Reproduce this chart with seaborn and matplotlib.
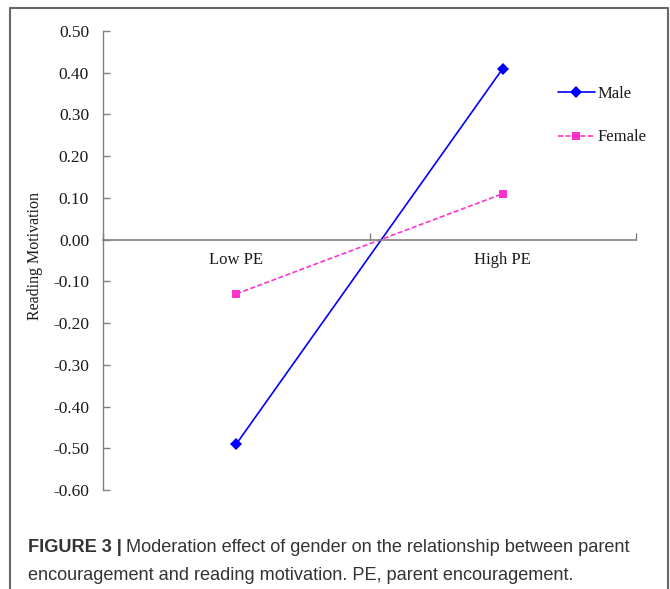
import matplotlib
matplotlib.use('Agg')
import matplotlib.pyplot as plt
import matplotlib.lines as mlines
import pandas as pd
import seaborn as sns

# values
levels = ['Low PE', 'High PE']
male = [-0.49, 0.41]
female = [-0.13, 0.11]
y_ticks = [0.50, 0.40, 0.30, 0.20, 0.10, 0.00, -0.10, -0.20, -0.30, -0.40, -0.50, -0.60]

df = pd.DataFrame({
    'PE': levels * 2,
    'value': male + female,
    'Gender': ['Male'] * 2 + ['Female'] * 2,
})

sns.set_style('white')
plt.rcParams['font.family'] = ['Liberation Serif', 'DejaVu Serif']

fig = plt.figure(figsize=(6.7, 5.89), dpi=100)
ax = fig.add_axes([103 / 670, 1 - 490 / 589, 533 / 670, 459 / 589])

blue, pink = '#0000FF', '#FF33CC'
sns.lineplot(data=df, x='PE', y='value', hue='Gender', style='Gender',
             palette={'Male': blue, 'Female': pink},
             markers={'Male': 'D', 'Female': 's'},
             dashes={'Male': '', 'Female': (3, 1.5)},
             markersize=6, linewidth=1.2, markeredgewidth=0, ax=ax, legend=False)

ax.set_xlim(-0.5, 1.5)
ax.set_ylim(-0.60, 0.50)
ax.set_yticks(y_ticks)
ax.set_yticklabels([f'{t:.2f}' for t in y_ticks])

gray = '#808080'
txt = '#1a1a1a'
for s in ['top', 'right']:
    ax.spines[s].set_visible(False)
ax.spines['left'].set_color(gray)
ax.spines['left'].set_linewidth(1.0)
ax.spines['bottom'].set_position(('data', 0))
ax.spines['bottom'].set_color(gray)
ax.spines['bottom'].set_linewidth(1.2)

ax.tick_params(axis='y', direction='in', length=5, width=1, color=gray,
               labelsize=12.5, labelcolor=txt, pad=10, left=True)
ax.set_xticks([-0.5, 0.5, 1.5])
ax.set_xticklabels([])
ax.set_xticks([0, 1], minor=True)
ax.set_xticklabels(levels, minor=True)
ax.tick_params(axis='x', which='major', direction='in', length=5, width=1,
               color=gray, bottom=True)
ax.tick_params(axis='x', which='minor', length=0, labelsize=12,
               labelcolor=txt, pad=9, bottom=True)

ax.set_xlabel('')
ax.set_ylabel('Reading Motivation', fontsize=11.5, color=txt)
ax.yaxis.set_label_coords(-0.112, 0.51)
ax.grid(False)

handles = [
    mlines.Line2D([], [], color=blue, marker='D', markersize=6,
                  markeredgewidth=0, linewidth=1.2),
    mlines.Line2D([], [], color=pink, marker='s', markersize=6,
                  markeredgewidth=0, linewidth=1.2, dashes=(3, 1.5)),
]
fig.legend(handles, ['Male', 'Female'], loc='upper left',
           bbox_to_anchor=(543 / 670, 1 - 71 / 589), frameon=False,
           fontsize=12, handlelength=2.2, handletextpad=0.15,
           labelspacing=1.65, labelcolor=txt)

# frame around the figure panel (open at the bottom)
fx0, fx1, fy1 = 10 / 670, 668 / 670, 1 - 8 / 589
fig.add_artist(mlines.Line2D([fx0, fx0, fx1, fx1], [0, fy1, fy1, 0],
                             transform=fig.transFigure, color='#666666',
                             linewidth=1.5))

# caption
cap_font = ['Liberation Sans', 'DejaVu Sans']
cap_size = 13.1
t1 = fig.text(28 / 670, 1 - 552 / 589, 'FIGURE 3 |', fontsize=cap_size,
              fontweight='bold', family=cap_font, color='#333333')
fig.canvas.draw()
bb = t1.get_window_extent()
fig.text((bb.x1 + 4) / 670, 1 - 552 / 589,
         'Moderation effect of gender on the relationship between parent',
         fontsize=cap_size, family=cap_font, color='#333333')
fig.text(28 / 670, 1 - 580 / 589,
         'encouragement and reading motivation. PE, parent encouragement.',
         fontsize=cap_size, family=cap_font, color='#333333')

fig.savefig('out.png', dpi=100)
